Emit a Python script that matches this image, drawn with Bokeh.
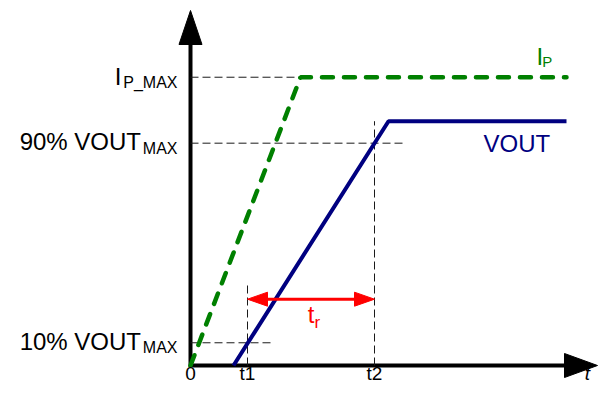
from bokeh.plotting import figure
from bokeh.models import Range1d
from bokeh.core.properties import value
from bokeh.embed import file_html
from bokeh.resources import INLINE

# ---------------- data (normalised units) ----------------
t_ip = [0.0, 1.10, 3.76]          # current ramp: time
ip = [0.0, 1.18, 1.18]            # current ramp: level (IP_MAX = 1.18)
t_vout = [0.43, 1.98, 3.76]       # output voltage: time
vout = [0.0, 1.0, 1.0]            # output voltage: fraction of VOUT_MAX
ip_max = 1.18
level_10 = 0.093
level_90 = 0.91
t1 = 0.57
t2 = 1.84
x_ticks = [0.0, t1, t2]
x_tick_labels = ["0", "t1", "t2"]
y_levels = [level_10, level_90, ip_max]
y_label_main = ["10% VOUT", "90% VOUT", "I"]
y_label_sub = ["MAX", "MAX", "P_MAX"]

# ---------------- geometry helpers ----------------
W, H = 598, 385
PXX, PXY = 100.0, 244.3          # pixels per data unit
OX, OY = 190, 365                # figure pixel position of the origin
def dx(px):
    return px / PXX
def dy(px):
    return px / PXY
def ypx(v):
    return OY - v * PXY
def tb(base_px, size):
    # data y for a text whose alphabetic baseline should sit at base_px
    return (OY - base_px + 0.4 * size) / PXY

X0, X1 = -OX / PXX, (W - OX) / PXX
Y0, Y1 = -(H - OY) / PXY, OY / PXY

FONT = value("Liberation Sans")

p = figure(width=W, height=H, output_backend="svg", toolbar_location=None,
           x_range=Range1d(X0, X1), y_range=Range1d(Y0, Y1),
           min_border=0, background_fill_color="white", border_fill_color="white")
p.xaxis.visible = False
p.yaxis.visible = False
p.grid.visible = False
p.outline_line_color = None

# ---------------- axes with arrowheads ----------------
x_tip = X1 - dx(1)
y_tip = Y1 - dy(10)
x_base = x_tip - dx(33)
y_base = y_tip - dy(34)
p.line([0, 0, x_base + dx(1)], [y_base + dy(1), 0, 0], line_color="black",
       line_width=4, line_join="miter")
p.patches(xs=[[-dx(11.5), dx(11.5), 0], [x_base, x_base, x_tip]],
          ys=[[y_base, y_base, y_tip], [dy(12), -dy(12), 0]],
          fill_color="black", line_color="black", line_width=1)

# ---------------- dashed guides ----------------
guide = dict(line_color="#1a1a1a", line_width=1, line_dash="8 4")
arrow_y = 0.2714
p.segment(x0=[0, 0, 0, t1, t2],
          y0=[ip_max, level_90, level_10, 0, 0],
          x1=[t_ip[1], t2 + dx(28), t1 + dx(23), t1, t2],
          y1=[ip_max, level_90, level_10, arrow_y + dy(17), vout[1]],
          **guide)

# ---------------- series ----------------
p.line(t_ip, ip, line_color="#008000", line_width=4.5, line_dash="11 11",
       line_cap="round")
p.line(t_vout, vout, line_color="#000080", line_width=4)

# ---------------- rise-time arrow ----------------
head_l, head_w = 20, 7
p.segment(x0=[t1 + dx(head_l - 1)], y0=[arrow_y], x1=[t2 - dx(head_l - 1)], y1=[arrow_y],
          line_color="#ff0000", line_width=3)
p.patches(xs=[[t1, t1 + dx(head_l), t1 + dx(head_l)], [t2, t2 - dx(head_l), t2 - dx(head_l)]],
          ys=[[arrow_y, arrow_y + dy(head_w), arrow_y - dy(head_w)],
              [arrow_y, arrow_y + dy(head_w), arrow_y - dy(head_w)]],
          fill_color="#ff0000", line_color="#ff0000", line_width=1)

# ---------------- texts ----------------
txt = dict(text_font=FONT, text_baseline="alphabetic")
# y labels
main_right = [-dx(49.5), -dx(49.5), -dx(69)]
main_base = [tb(ypx(level_10) + 8, 24), tb(ypx(level_90) + 8, 24), tb(ypx(ip_max) + 9, 24)]
sub_base = [tb(ypx(lv) + 11.3, 16) for lv in y_levels]
p.text(x=main_right, y=main_base, text=y_label_main, text_align="right",
       text_font_size="24px", text_color="black", **txt)
p.text(x=[-dx(13)] * 3, y=sub_base, text=y_label_sub, text_align="right",
       text_font_size="16px", text_color="black", **txt)
# x labels
p.text(x=x_ticks, y=[tb(380.8, 19)] * 3, text=x_tick_labels, text_align="center",
       text_font_size="19px", text_color="black", **txt)
p.text(x=[x_tip - dx(10)], y=[tb(380.8, 19)], text=["t"], text_align="center",
       text_font_size="19px", text_font_style="italic", text_color="black", **txt)
# t_r
mid = (t1 + t2) / 2
p.text(x=[mid + dx(3.5)], y=[tb(324, 24)], text=["t"], text_align="right",
       text_font_size="24px", text_color="#ff0000", **txt)
p.text(x=[mid + dx(3.5)], y=[tb(329, 17)], text=["r"], text_align="left",
       text_font_size="17px", text_color="#ff0000", **txt)
# series labels
p.text(x=[2.93], y=[tb(152.3, 24)], text=["VOUT"], text_align="left",
       text_font_size="24px", text_color="#000080", **txt)
p.text(x=[3.46], y=[tb(66, 24)], text=["I"], text_align="left",
       text_font_size="24px", text_color="#008000", **txt)
p.text(x=[3.517], y=[tb(67.3, 15)], text=["P"], text_align="left",
       text_font_size="15px", text_color="#008000", **txt)

open("out.html", "w").write(file_html(p, INLINE))
